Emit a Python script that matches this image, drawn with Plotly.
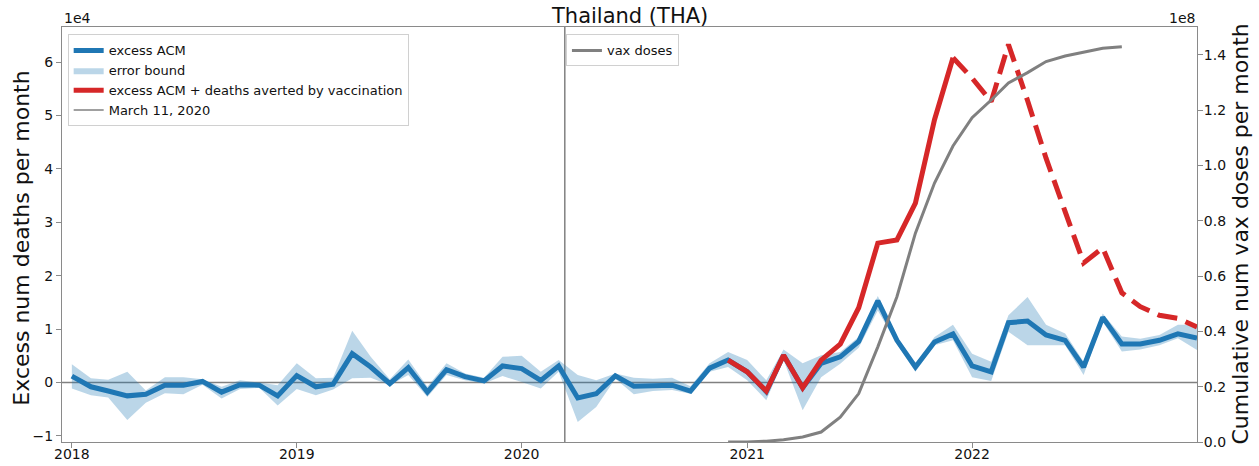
import plotly.graph_objects as go
import pandas as pd

# ---------------- data ----------------
months = list(pd.date_range("2018-01-01", "2023-01-01", freq="MS"))

excess_acm = [1200, -800, -1600, -2500, -2200, -500, -500, 200, -1800, -400, -500, -2500,
              1300, -800, -300, 5400, 2900, -200, 2800, -1800, 2400, 1100, 300, 3100,
              2600, 400, 3100, -2900, -2100, 1250, -700, -500, -500, -1600, 2700, 4200,
              2000, -1700, 5100, -1000, 3600, 4800, 7700, 15300, 7900, 2900, 7600, 9100,
              3100, 2000, 11200, 11500, 8900, 7900, 2900, 12200, 7200, 7200, 7900, 9100, 8300]

err_upper = [3400, 800, 500, 2000, -1500, 1000, 1000, 600, -800, 400, 0, -500,
             3600, 800, 900, 9700, 4800, 600, 4300, -800, 3600, 1700, 900, 4800,
             5000, 2000, 4200, 1400, 400, 1700, 900, 700, 900, -700, 3600, 5700,
             4200, 400, 6200, 3600, 5100, 5700, 8500, 16200, 8600, 3500, 8500, 10800,
             5400, 3900, 12600, 16000, 10800, 9200, 3900, 12900, 8600, 8200, 8900, 10800, 10800]

err_lower = [-1100, -2400, -2800, -7000, -3800, -2000, -2200, -400, -3000, -1200, -1000, -4300,
             -1200, -2400, -1300, 800, 900, -500, 1400, -2700, 1400, 400, -200, 1200,
             100, -1100, 2000, -7400, -4600, 700, -2200, -1600, -1400, -2100, 2000, 2900,
             400, -3300, 4200, -5200, 1000, 3500, 6500, 13500, 7200, 2000, 7000, 7900,
             1000, 300, 9500, 7000, 7000, 7000, 1400, 11400, 5800, 6200, 7000, 8300, 6100]

# excess ACM + deaths averted (solid: 2020-12 .. 2021-12, dashed: 2021-12 .. 2023-01)
averted_solid = [4200, 2000, -1600, 5100, -1000, 4200, 7200, 14000, 26100, 26700, 33600, 49200, 60800]
averted_dashed = [60800, 57000, 52600, 63300, 52800, 42000, 32000, 22400, 25200, 16800, 14200,
                  12600, 12000, 10400]

# cumulative vaccine doses 2020-12 .. 2022-09
vax_doses = [0, 0, 0.3e6, 0.8e6, 1.8e6, 3.6e6, 9e6, 17.5e6, 34.4e6, 52.5e6, 75.5e6, 93.6e6,
             107e6, 117.2e6, 123.6e6, 129.8e6, 133.5e6, 137.5e6, 139.5e6, 141e6, 142.3e6, 142.9e6]

pandemic_date = "2020-03-11"
year_ticks = ["2018-01-01", "2019-01-01", "2020-01-01", "2021-01-01", "2022-01-01"]
left_tickvals = [-10000, 0, 10000, 20000, 30000, 40000, 50000, 60000]
left_ticktext = ["\u22121", "0", "1", "2", "3", "4", "5", "6"]
right_tickvals = [0, 2e7, 4e7, 6e7, 8e7, 1e8, 1.2e8, 1.4e8]
right_ticktext = ["0.0", "0.2", "0.4", "0.6", "0.8", "1.0", "1.2", "1.4"]

# ---------------- styles ----------------
BLUE = "#1f77b4"
RED = "#d62728"
GRAY = "#808080"
SPINE = "#8a8a8a"
FONT = "DejaVu Sans"

fig = go.Figure()

# error band
fig.add_trace(go.Scatter(
    x=months + months[::-1], y=err_upper + err_lower[::-1],
    fill="toself", fillcolor="rgba(31,119,180,0.3)", line=dict(width=0),
    mode="lines", name="error bound", legend="legend", legendrank=2, hoverinfo="skip"))

fig.add_trace(go.Scatter(
    x=months, y=excess_acm, mode="lines", name="excess ACM",
    line=dict(color=BLUE, width=5), legend="legend", legendrank=1))

fig.add_trace(go.Scatter(
    x=months[35:48], y=averted_solid, mode="lines",
    name="excess ACM + deaths averted by vaccination",
    line=dict(color=RED, width=5), legend="legend", legendrank=3))

fig.add_trace(go.Scatter(
    x=months[47:], y=averted_dashed, mode="lines", showlegend=False,
    line=dict(color=RED, width=5, dash="20px,9px")))

# vertical March 11 line (legend entry via shape)
fig.add_shape(type="line", xref="x", yref="paper", x0=pandemic_date, x1=pandemic_date,
              y0=0, y1=1, line=dict(color=GRAY, width=1.5), layer="below",
              showlegend=True, name="March 11, 2020", legend="legend", legendrank=4)
# zero line
fig.add_shape(type="line", xref="paper", yref="y", x0=0, x1=1, y0=0, y1=0,
              line=dict(color=GRAY, width=1.5), layer="below")

# vax doses on right axis
fig.add_trace(go.Scatter(
    x=months[35:57], y=vax_doses, mode="lines", name="vax doses", yaxis="y2",
    line=dict(color=GRAY, width=3), legend="legend2"))

axis_common = dict(showline=True, linecolor=SPINE, linewidth=1, ticks="outside",
                   ticklen=5, tickcolor=SPINE, tickwidth=1, showgrid=False, zeroline=False,
                   automargin=False,
                   tickfont=dict(family=FONT, size=14, color="#111"))

fig.update_layout(
    width=1259, height=466, autosize=False,
    margin=dict(l=62, r=62, t=27, b=24, autoexpand=False),
    paper_bgcolor="white", plot_bgcolor="white",
    font=dict(family=FONT, color="#111"),
    showlegend=True,
    xaxis=dict(type="date", range=["2017-12-16", "2023-01-01"], tickvals=year_ticks,
               tickformat="%Y", mirror=True, ticklabelstandoff=-6, **axis_common),
    yaxis=dict(range=[-11140, 66570], tickvals=left_tickvals, ticktext=left_ticktext,
               **axis_common),
    yaxis2=dict(range=[0, 1.5e8], overlaying="y", side="right", tickvals=right_tickvals,
                ticktext=right_ticktext, ticklabelstandoff=-2, **axis_common),
    legend=dict(x=0.005, y=0.982, xanchor="left", yanchor="top",
                bgcolor="rgba(255,255,255,0.8)", bordercolor="#d0d0d0", borderwidth=1,
                font=dict(family=FONT, size=13, color="#111"), traceorder="normal"),
    legend2=dict(x=0.444, y=0.982, xanchor="left", yanchor="top",
                 bgcolor="rgba(255,255,255,0.8)", bordercolor="#d0d0d0", borderwidth=1,
                 font=dict(family=FONT, size=13, color="#111")),
    annotations=[
        dict(text="Thailand (THA)", xref="paper", yref="paper", x=0.5, y=1,
             xanchor="center", yanchor="bottom", yshift=-3, showarrow=False,
             font=dict(family=FONT, size=21, color="#111")),
        dict(text="1e4", xref="paper", yref="paper", x=0, y=1, xanchor="left",
             yanchor="bottom", showarrow=False, yshift=-1,
             font=dict(family=FONT, size=14, color="#111")),
        dict(text="1e8", xref="paper", yref="paper", x=1, y=1, xanchor="right",
             yanchor="bottom", showarrow=False, yshift=-1,
             font=dict(family=FONT, size=14, color="#111")),
        dict(text="Excess num deaths per month", xref="paper", yref="paper", x=0, y=0.49,
             xanchor="center", yanchor="middle", xshift=-40, textangle=-90, showarrow=False,
             font=dict(family=FONT, size=22, color="#111")),
        dict(text="Cumulative num vax doses per month", xref="paper", yref="paper", x=1,
             y=0.5, xanchor="center", yanchor="middle", xshift=43, textangle=-90,
             showarrow=False, font=dict(family=FONT, size=22, color="#111")),
    ],
)

# remove the default page margin so the figure fills the window exactly
fig.write_html("out.html", config={"displayModeBar": False},
               post_script="document.body.style.margin='0px';")
